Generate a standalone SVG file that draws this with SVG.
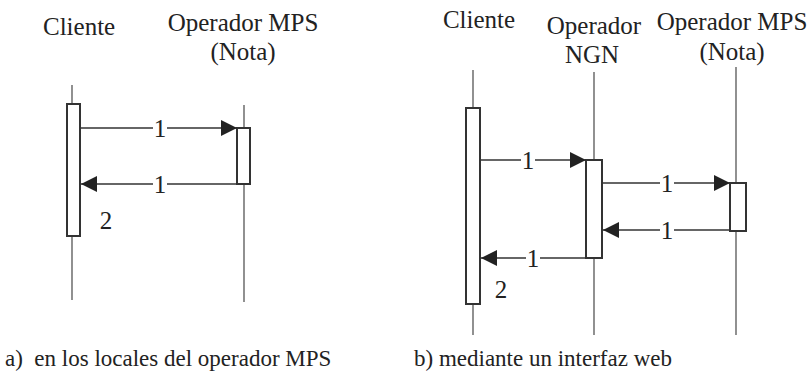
<svg xmlns="http://www.w3.org/2000/svg" width="810" height="372" viewBox="0 0 810 372">
  <style>
    .t { font-family: "Liberation Serif", "Times New Roman", serif; font-size: 25px; fill: #222; }
    .cap { font-family: "Liberation Serif", "Times New Roman", serif; font-size: 23px; fill: #222; white-space: pre; }
    .life { stroke: #555; stroke-width: 1.3; fill: none; }
    .act { fill: #fff; stroke: #333; stroke-width: 2; }
    .msg { stroke: #333; stroke-width: 1.3; fill: none; marker-end: url(#head); }
    .lbl { fill: #fff; }
  </style>
  <defs>
    <marker id="head" viewBox="0 0 16 16" refX="16" refY="8" markerWidth="16" markerHeight="16" markerUnits="userSpaceOnUse" orient="auto">
      <path d="M0,0 L16,8 L0,16 Z" fill="#222"/>
    </marker>
  </defs>
  <rect width="810" height="372" fill="#fff"/>

  <!-- (a) client and MPS operator -->
  <g id="a-cliente">
    <text class="t" x="43" y="35">Cliente</text>
    <line class="life" x1="72" y1="85" x2="72" y2="300"/>
    <rect class="act" x="67" y="104" width="13" height="132"/>
  </g>
  <g id="a-operador-mps">
    <text class="t" x="243" y="31" text-anchor="middle">Operador MPS</text>
    <text class="t" x="243" y="60" text-anchor="middle">(Nota)</text>
    <line class="life" x1="244" y1="105" x2="244" y2="302"/>
    <rect class="act" x="237" y="128" width="13" height="56"/>
  </g>
  <g id="a-connectors">
    <line class="msg" x1="81" y1="128" x2="237" y2="128"/>
    <rect class="lbl" x="153" y="116" width="14" height="22"/>
    <text class="t" x="160" y="137" text-anchor="middle">1</text>
    <line class="msg" x1="237" y1="184" x2="81" y2="184"/>
    <rect class="lbl" x="153" y="172" width="14" height="22"/>
    <text class="t" x="160" y="193" text-anchor="middle">1</text>
    <text class="t" x="106" y="229" text-anchor="middle">2</text>
  </g>
  <text class="cap" x="5" y="366">a)  en los locales del operador MPS</text>

  <!-- (b) web interface -->
  <g id="b-cliente">
    <text class="t" x="479" y="28" text-anchor="middle">Cliente</text>
    <line class="life" x1="473" y1="70" x2="473" y2="335"/>
    <rect class="act" x="466" y="108" width="14" height="196"/>
  </g>
  <g id="b-operador-ngn">
    <text class="t" x="594" y="34" text-anchor="middle">Operador</text>
    <text class="t" x="592" y="63" text-anchor="middle">NGN</text>
    <line class="life" x1="594" y1="72" x2="594" y2="335"/>
    <rect class="act" x="586" y="160" width="16" height="98"/>
  </g>
  <g id="b-operador-mps">
    <text class="t" x="732" y="30" text-anchor="middle">Operador MPS</text>
    <text class="t" x="732" y="60" text-anchor="middle">(Nota)</text>
    <line class="life" x1="736" y1="67" x2="736" y2="335"/>
    <rect class="act" x="730" y="183" width="16" height="48"/>
  </g>
  <g id="b-connectors">
    <line class="msg" x1="481" y1="160" x2="586" y2="160"/>
    <rect class="lbl" x="521" y="148" width="14" height="22"/>
    <text class="t" x="528" y="169" text-anchor="middle">1</text>
    <line class="msg" x1="603" y1="183" x2="730" y2="183"/>
    <rect class="lbl" x="660" y="171" width="14" height="22"/>
    <text class="t" x="667" y="192" text-anchor="middle">1</text>
    <line class="msg" x1="730" y1="230" x2="603" y2="230"/>
    <rect class="lbl" x="660" y="218" width="14" height="22"/>
    <text class="t" x="667" y="239" text-anchor="middle">1</text>
    <line class="msg" x1="586" y1="258" x2="481" y2="258"/>
    <rect class="lbl" x="526" y="246" width="14" height="22"/>
    <text class="t" x="533" y="267" text-anchor="middle">1</text>
    <text class="t" x="501" y="298" text-anchor="middle">2</text>
  </g>
  <text class="cap" x="414" y="366">b) mediante un interfaz web</text>
</svg>
